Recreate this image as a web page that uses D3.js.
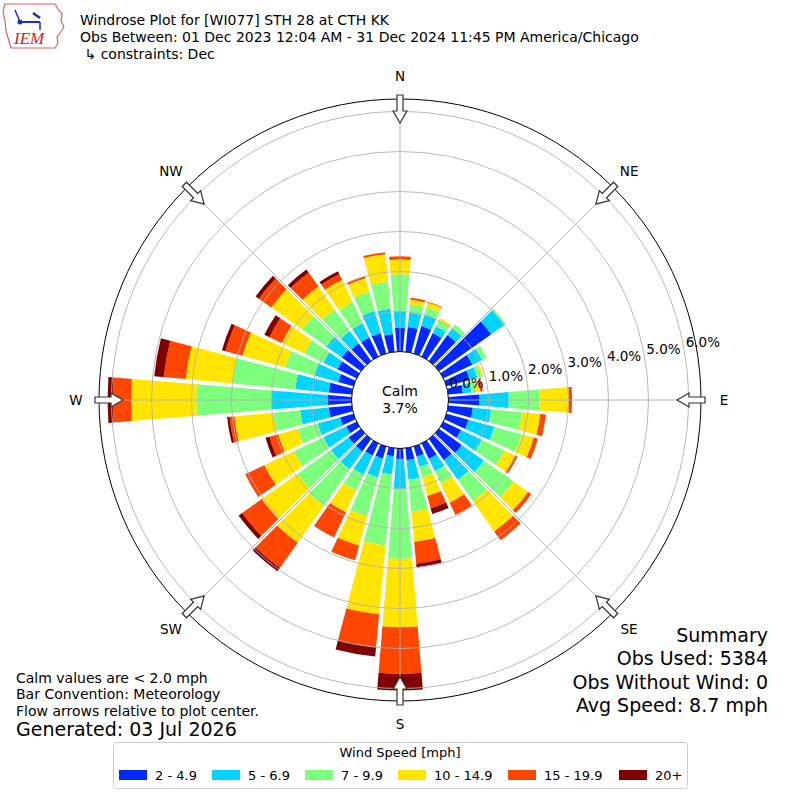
<!DOCTYPE html>
<html>
<head>
<meta charset="utf-8">
<script src="https://cdn.jsdelivr.net/npm/d3@7"></script>
<style>
  body { margin: 0; background: #fff; }
  svg text { font-family: "DejaVu Sans", sans-serif; fill: #000; }
</style>
</head>
<body>
<svg id="chart" width="800" height="800"></svg>
<script>
// direction of each bar (deg, meteorological)
const directions = [0, 10, 20, 30, 40, 50, 60, 70, 80, 90, 100, 110, 120, 130, 140, 150, 160, 170,
                    180, 190, 200, 210, 220, 230, 240, 250, 260, 270, 280, 290, 300, 310, 320, 330, 340, 350];

const speedLabels = ["2 - 4.9", "5 - 6.9", "7 - 9.9", "10 - 14.9", "15 - 19.9", "20+"];
const speedColors = ["#0028ff", "#00d4ff", "#7dff7d", "#ffe500", "#ff4600", "#800000"];

// frequency (%) per direction, one array per speed bin
const bin2to5   = [0.60, 0.62, 0.71, 0.65, 0.80, 1.60, 0.80, 0.60, 0.37, 0.78, 0.62, 0.57, 0.49, 0.70, 0.65, 0.43, 0.26, 0.30,
                   0.26, 0.20, 0.31, 0.34, 0.38, 0.38, 0.29, 0.35, 0.58, 0.59, 0.58, 0.40, 0.53, 0.59, 0.54, 0.53, 0.53, 0.45];
const bin5to7   = [0.40, 0.36, 0.30, 0.19, 0.20, 0.40, 0.27, 0.20, 0.21, 0.73, 0.46, 0.67, 0.57, 0.68, 0.60, 0.34, 0.27, 0.49,
                   0.75, 0.46, 0.49, 0.53, 0.55, 0.54, 0.63, 0.58, 0.72, 1.42, 0.84, 0.62, 0.39, 0.48, 0.38, 0.39, 0.57, 0.63];
const bin7to10  = [0.93, 0.21, 0.18, 0.15, 0.12, 0.05, 0.13, 0.10, 0.12, 0.77, 0.77, 0.71, 0.63, 0.90, 0.65, 0.34, 0.27, 0.80,
                   1.75, 1.78, 1.01, 0.43, 1.12, 1.03, 0.82, 0.52, 0.67, 1.87, 1.58, 0.75, 0.53, 0.73, 0.66, 0.58, 0.50, 0.68];
const bin10to15 = [0.37, 0.12, 0.13, 0.07, 0.00, 0.00, 0.00, 0.05, 0.10, 0.73, 0.46, 0.31, 0.29, 0.45, 0.93, 0.53, 0.48, 0.76,
                   1.71, 1.73, 0.76, 0.60, 1.13, 1.09, 0.81, 0.50, 0.98, 1.63, 1.17, 1.11, 0.62, 0.95, 0.70, 0.62, 0.35, 0.69];
const bin15to20 = [0.08, 0.05, 0.02, 0.00, 0.00, 0.00, 0.00, 0.00, 0.07, 0.08, 0.14, 0.11, 0.07, 0.10, 0.27, 0.34, 0.32, 0.55,
                   1.16, 0.83, 0.38, 0.70, 0.77, 0.60, 0.53, 0.23, 0.12, 0.46, 0.55, 0.44, 0.34, 0.38, 0.42, 0.16, 0.06, 0.05];
const bin20up   = [0.00, 0.00, 0.00, 0.00, 0.00, 0.00, 0.00, 0.00, 0.00, 0.00, 0.00, 0.00, 0.00, 0.00, 0.00, 0.00, 0.15, 0.09,
                   0.42, 0.23, 0.00, 0.00, 0.10, 0.11, 0.00, 0.10, 0.06, 0.13, 0.24, 0.09, 0.14, 0.10, 0.10, 0.08, 0.00, 0.00];

const ringTicks = [0, 1, 2, 3, 4, 5, 6];
const compass = [["N", 0], ["NE", 45], ["E", 90], ["SE", 135], ["S", 180], ["SW", 225], ["W", 270], ["NW", 315]];
const calmPct = "3.7%";

const svg = d3.select("#chart");
const cx = 400, cy = 400, outerR = 301;
const r = d3.scaleLinear().domain([0, 6]).range([48.5, 288.5]);
const rad = d => d * Math.PI / 180;

const g = svg.append("g").attr("transform", `translate(${cx},${cy})`);

// stack the bins for each direction
const bins = [bin2to5, bin5to7, bin7to10, bin10to15, bin15to20, bin20up];
const segs = [];
directions.forEach((dir, i) => {
  let acc = 0;
  bins.forEach((b, k) => {
    if (b[i] > 0) segs.push({ dir, k, s: acc, e: acc + b[i] });
    acc += b[i];
  });
});

const arc = d3.arc()
  .innerRadius(d => r(d.s)).outerRadius(d => r(d.e))
  .startAngle(d => rad(d.dir - 4.7)).endAngle(d => rad(d.dir + 4.7))
  .padRadius(100).padAngle(0.02);

g.selectAll("path.bar").data(segs).join("path")
  .attr("class", "bar")
  .attr("d", arc)
  .attr("fill", d => speedColors[d.k]);

// grid over the bars
g.selectAll("circle.ring").data(ringTicks.slice(1)).join("circle")
  .attr("r", d => r(d)).attr("fill", "none")
  .attr("stroke", "#b0b0b0").attr("stroke-width", 0.9);

g.selectAll("line.spoke").data(compass).join("line")
  .attr("x1", d => r(0) * Math.sin(rad(d[1]))).attr("y1", d => -r(0) * Math.cos(rad(d[1])))
  .attr("x2", d => outerR * Math.sin(rad(d[1]))).attr("y2", d => -outerR * Math.cos(rad(d[1])))
  .attr("stroke", "#b0b0b0").attr("stroke-width", 0.9);

g.append("circle").attr("r", outerR).attr("fill", "none").attr("stroke", "#000").attr("stroke-width", 1);
g.append("circle").attr("r", r(0)).attr("fill", "#fff").attr("stroke", "#000").attr("stroke-width", 1);

// percent labels
g.selectAll("text.rlab").data(ringTicks).join("text")
  .attr("x", d => (r(d) + 19) * Math.cos(rad(10)))
  .attr("y", d => -(r(d) + 19) * Math.sin(rad(10)) - 5)
  .attr("text-anchor", "middle").attr("dominant-baseline", "central")
  .style("font-size", "13.5px")
  .text(d => d.toFixed(1) + "%");

// open arrows pointing inward at the compass points
const arrowPts = [[0, -277], [-7, -289], [-3, -289], [-3, -305], [3, -305], [3, -289], [7, -289]];
g.selectAll("polygon.arrow").data(compass).join("polygon")
  .attr("points", arrowPts.map(p => p.join(",")).join(" "))
  .attr("transform", d => `rotate(${d[1]})`)
  .attr("fill", "#fff").attr("stroke", "#333").attr("stroke-width", 1.2);

g.selectAll("text.dir").data(compass).join("text")
  .attr("x", d => 324 * Math.sin(rad(d[1])))
  .attr("y", d => -324 * Math.cos(rad(d[1])))
  .attr("text-anchor", "middle").attr("dominant-baseline", "central")
  .style("font-size", "13.5px")
  .text(d => d[0]);

// calm in centre
g.append("text").attr("y", -9).attr("text-anchor", "middle").attr("dominant-baseline", "central")
  .style("font-size", "14px").text("Calm");
g.append("text").attr("y", 8).attr("text-anchor", "middle").attr("dominant-baseline", "central")
  .style("font-size", "14px").text(calmPct);

// header
const titles = ["Windrose Plot for [WI077] STH 28 at CTH KK",
  "Obs Between: 01 Dec 2023 12:04 AM - 31 Dec 2024 11:45 PM America/Chicago",
  " \u21B3 constraints: Dec"];
svg.selectAll("text.title").data(titles).join("text")
  .attr("x", 80).attr("y", (d, i) => 25 + i * 17)
  .style("font-size", "14px").style("white-space", "pre")
  .attr("xml:space", "preserve")
  .text(d => d);

// IEM logo (rough)
const logo = svg.append("g");
logo.append("path")
  .attr("d", "M5,4 L55,4 L58,9 L62,14 L61,21 L64,27 L60,33 L57,37 L58,43 L55,48 L11,48 L9,41 L6,31 L5,21 L3,11 Z")
  .attr("fill", "none").attr("stroke", "#e06060").attr("stroke-width", 1.2);
logo.append("line").attr("x1", 20).attr("y1", 22).attr("x2", 40).attr("y2", 22).attr("stroke", "#1a2fcc").attr("stroke-width", 2);
logo.append("circle").attr("cx", 20).attr("cy", 22).attr("r", 2.5).attr("fill", "#1a2fcc");
logo.append("line").attr("x1", 20).attr("y1", 22).attr("x2", 15).attr("y2", 10).attr("stroke", "#1a2fcc").attr("stroke-width", 1.5);
logo.append("line").attr("x1", 40).attr("y1", 22).attr("x2", 40).attr("y2", 30).attr("stroke", "#1a2fcc").attr("stroke-width", 1.5);
logo.append("line").attr("x1", 33).attr("y1", 13).attr("x2", 40).attr("y2", 18).attr("stroke", "#1a2fcc").attr("stroke-width", 2.5);
logo.append("text").attr("x", 14).attr("y", 44)
  .style("font-family", "'Liberation Serif', serif").style("font-style", "italic")
  .style("font-size", "17px").style("fill", "#d02020").text("IEM");

// notes bottom-left
const notes = ["Calm values are < 2.0 mph", "Bar Convention: Meteorology", "Flow arrows relative to plot center."];
svg.selectAll("text.note").data(notes).join("text")
  .attr("x", 16).attr("y", (d, i) => 682.5 + i * 16.5)
  .style("font-size", "14px").text(d => d);
svg.append("text").attr("x", 16).attr("y", 735.5).style("font-size", "19px").text("Generated: 03 Jul 2026");

// summary bottom-right
const summary = ["Summary", "Obs Used: 5384", "Obs Without Wind: 0", "Avg Speed: 8.7 mph"];
svg.selectAll("text.sum").data(summary).join("text")
  .attr("x", 768).attr("y", (d, i) => 641.5 + i * 23.5)
  .attr("text-anchor", "end")
  .style("font-size", "19px").text(d => d);

// legend
const leg = svg.append("g");
leg.append("rect").attr("x", 113.5).attr("y", 742.5).attr("width", 574).attr("height", 46).attr("rx", 3)
  .attr("fill", "#fff").attr("stroke", "#cccccc");
leg.append("text").attr("x", 400).attr("y", 757).attr("text-anchor", "middle")
  .style("font-size", "13px").text("Wind Speed [mph]");
const legX = [119, 212, 305, 398, 508, 619];
const items = leg.selectAll("g.item").data(speedLabels).join("g")
  .attr("transform", (d, i) => `translate(${legX[i]},770)`);
items.append("rect").attr("width", 28).attr("height", 10).attr("fill", (d, i) => speedColors[i]);
items.append("text").attr("x", 36).attr("y", 5).attr("dominant-baseline", "central")
  .style("font-size", "13px").text(d => d);
</script>
</body>
</html>
